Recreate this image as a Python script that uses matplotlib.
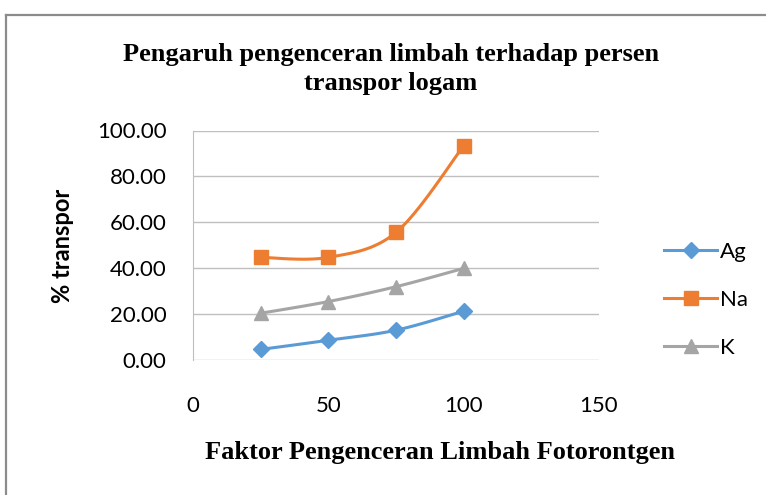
import numpy as np
import matplotlib.pyplot as plt
from matplotlib.lines import Line2D

# Daten
faktor = [25, 50, 75, 100]
ag = [4.4, 8.4, 12.8, 21.1]
na = [44.6, 44.6, 55.5, 93.3]
k = [20.2, 25.3, 31.8, 39.8]
serien = ["Ag", "Na", "K"]
farben = ["#5B9BD5", "#ED7D31", "#A5A5A5"]
marker = ["D", "s", "^"]
msize = [8, 10.5, 10]
yticks = [0, 20, 40, 60, 80, 100]
xticks = [0, 50, 100, 150]


def glatt(x, y, n=30):
    # Excel-artige geglaettete Linie (Bezier mit Catmull-Rom Kontrollpunkten)
    p = np.column_stack([x, y]).astype(float)
    p_ext = np.vstack([p[0], p, p[-1]])
    out = []
    for i in range(1, len(p_ext) - 2):
        p0, p1, p2, p3 = p_ext[i - 1], p_ext[i], p_ext[i + 1], p_ext[i + 2]
        c1 = p1 + (p2 - p0) / 6
        c2 = p2 - (p3 - p1) / 6
        t = np.linspace(0, 1, n)[:, None]
        seg = (1 - t) ** 3 * p1 + 3 * (1 - t) ** 2 * t * c1 + 3 * (1 - t) * t ** 2 * c2 + t ** 3 * p2
        out.append(seg)
    out = np.vstack(out)
    return out[:, 0], out[:, 1]


fig = plt.figure(figsize=(7.66, 4.95), dpi=100)
ax = fig.add_axes([193 / 766, 1 - 359.5 / 495, 406 / 766, 229 / 495])

for name, werte, c, m, ms in zip(serien, [ag, na, k], farben, marker, msize):
    xs, ys = glatt(faktor, werte)
    ax.plot(xs, ys, color=c, lw=2.2, solid_capstyle="round", zorder=3)
    ax.plot(faktor, werte, ls="none", marker=m, ms=ms, color=c, mec=c, zorder=4)

ax.set_xlim(0, 150)
ax.set_ylim(0, 100)
ax.set_yticks(yticks)
ax.set_xticks(xticks)
ax.set_yticklabels(["%.2f" % v for v in yticks], fontfamily="Lato", fontsize=16)
ax.set_xticklabels([str(v) for v in xticks], fontfamily="Lato", fontsize=16)
ax.tick_params(length=0)
ax.tick_params(axis="y", pad=19)
ax.tick_params(axis="x", pad=26)
ax.grid(axis="y", color="#BFBFBF", lw=1)
ax.set_axisbelow(True)
for s in ["top", "right", "bottom"]:
    ax.spines[s].set_visible(False)
ax.spines["left"].set_color("#BFBFBF")

fig.text(391 / 766, 1 - 69 / 495, "Pengaruh pengenceran limbah terhadap persen\ntranspor logam",
         ha="center", va="center", fontfamily="Liberation Serif", fontweight="bold",
         fontsize=19, linespacing=1.38)
fig.text(440 / 766, 1 - 453 / 495, "Faktor Pengenceran Limbah Fotorontgen",
         ha="center", va="center", fontfamily="Liberation Serif", fontweight="bold", fontsize=19)
fig.text(62 / 766, 1 - 246 / 495, "% transpor", rotation=90, ha="center", va="center",
         fontfamily="Lato", fontweight="bold", fontsize=17)

handles = [Line2D([], [], color=c, lw=2.2, marker=m, ms=ms, mec=c) for c, m, ms in zip(farben, marker, msize)]
fig.legend(handles, serien, loc="center left", bbox_to_anchor=(644 / 766, 1 - 300 / 495),
           frameon=False, prop={"family": "Lato", "size": 16}, handlelength=2.4,
           handletextpad=0.1, labelspacing=1.25)

# grauer Rahmen des Diagramms (links und oben)
fig.add_artist(Line2D([6 / 766, 6 / 766], [0, 1 - 15 / 495], color="#8C8C8C", lw=1.6))
fig.add_artist(Line2D([6 / 766, 1], [1 - 15 / 495, 1 - 15 / 495], color="#8C8C8C", lw=1.6))

fig.savefig("out.png", dpi=100)
